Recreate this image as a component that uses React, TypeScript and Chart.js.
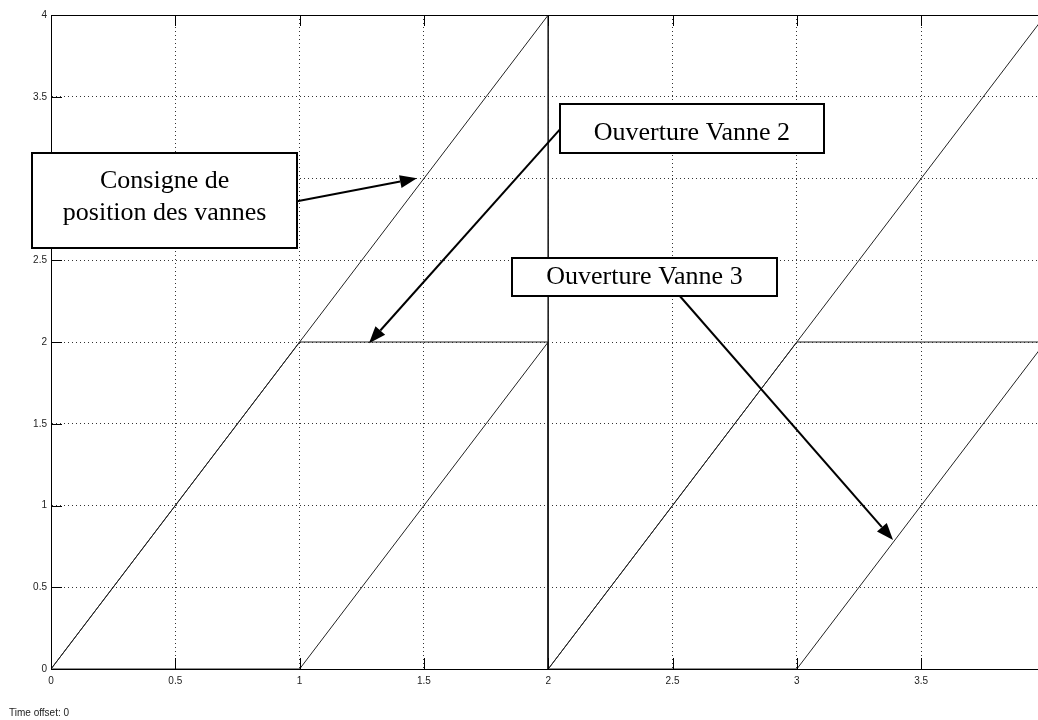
import React, { useEffect, useRef } from "react";
import { Chart, registerables } from "chart.js";

Chart.register(...registerables);

// ---- data ----
const consigneX = [0, 2, 2, 4];
const consigneY = [0, 4, 0, 4];
const vanne2X = [0, 1, 2, 2, 3, 4];
const vanne2Y = [0, 2, 2, 0, 2, 2];
const vanne3X = [0, 1, 2, 2, 3, 4];
const vanne3Y = [0, 0, 2, 0, 0, 2];

const xTickValues = [0, 0.5, 1, 1.5, 2, 2.5, 3, 3.5];
const xTickLabels = ["0", "0.5", "1", "1.5", "2", "2.5", "3", "3.5"];
const yTickValues = [0, 0.5, 1, 1.5, 2, 2.5, 3, 3.5, 4];
const yTickLabels = ["0", "0.5", "1", "1.5", "2", "2.5", "3", "3.5", "4"];

const xMin = 0;
const xMax = 3.97;
const yMin = 0;
const yMax = 4;

const footerText = "Time offset: 0";

// annotation boxes (data units) and arrows
const annLabels = [["Consigne de", "position des vannes"], ["Ouverture Vanne 2"], ["Ouverture Vanne 3"]];
const annBoxX0 = [-0.076, 2.047, 1.854];
const annBoxX1 = [0.99, 3.109, 2.92];
const annBoxYTop = [3.154, 3.454, 2.512];
const annBoxYBot = [2.573, 3.154, 2.28];
const annTextBaseY = [2.94, 3.233, 2.353];
const annArrowFromX = [0.99, 2.047, 2.53];
const annArrowFromY = [2.861, 3.3, 2.28];
const annArrowToX = [1.472, 1.279, 3.387];
const annArrowToY = [3.001, 1.993, 0.789];

const toPts = (xs: number[], ys: number[]) => xs.map((x, i) => ({ x, y: ys[i] }));

const axisFont = { family: "'Liberation Sans', Arial, sans-serif", size: 10 };

const decorPlugin = {
  id: "decor",
  afterDatasetsDraw(chart: any) {
    const { ctx, chartArea } = chart;
    const xs = chart.scales.x;
    const ys = chart.scales.y;
    const { left, right, top, bottom } = chartArea;
    ctx.save();
    ctx.strokeStyle = "#000";
    ctx.lineWidth = 1;
    // top border
    ctx.beginPath();
    ctx.moveTo(left, Math.round(top) + 0.5);
    ctx.lineTo(right, Math.round(top) + 0.5);
    ctx.stroke();
    // inner ticks
    const tl = 11;
    xTickValues.forEach((v) => {
      const px = Math.round(xs.getPixelForValue(v)) + 0.5;
      ctx.beginPath();
      ctx.moveTo(px, bottom);
      ctx.lineTo(px, bottom - tl);
      ctx.moveTo(px, top);
      ctx.lineTo(px, top + tl);
      ctx.stroke();
    });
    yTickValues.forEach((v) => {
      const py = Math.round(ys.getPixelForValue(v)) + 0.5;
      ctx.beginPath();
      ctx.moveTo(left, py);
      ctx.lineTo(left + tl, py);
      ctx.stroke();
    });
    ctx.restore();
  },
  afterDraw(chart: any) {
    const { ctx } = chart;
    const xs = chart.scales.x;
    const ys = chart.scales.y;
    ctx.save();
    // arrows first, then boxes
    for (let i = 0; i < annLabels.length; i++) {
      const x0 = xs.getPixelForValue(annArrowFromX[i]);
      const y0 = ys.getPixelForValue(annArrowFromY[i]);
      const x1 = xs.getPixelForValue(annArrowToX[i]);
      const y1 = ys.getPixelForValue(annArrowToY[i]);
      const ang = Math.atan2(y1 - y0, x1 - x0);
      const hl = 17;
      const hw = 6.5;
      const bx = x1 - hl * Math.cos(ang);
      const by = y1 - hl * Math.sin(ang);
      ctx.strokeStyle = "#000";
      ctx.fillStyle = "#000";
      ctx.lineWidth = 2;
      ctx.beginPath();
      ctx.moveTo(x0, y0);
      ctx.lineTo(bx, by);
      ctx.stroke();
      ctx.beginPath();
      ctx.moveTo(x1, y1);
      ctx.lineTo(bx + hw * Math.sin(ang), by - hw * Math.cos(ang));
      ctx.lineTo(bx - hw * Math.sin(ang), by + hw * Math.cos(ang));
      ctx.closePath();
      ctx.fill();
    }
    for (let i = 0; i < annLabels.length; i++) {
      const bl = xs.getPixelForValue(annBoxX0[i]);
      const br = xs.getPixelForValue(annBoxX1[i]);
      const bt = ys.getPixelForValue(annBoxYTop[i]);
      const bb = ys.getPixelForValue(annBoxYBot[i]);
      ctx.fillStyle = "#fff";
      ctx.fillRect(bl, bt, br - bl, bb - bt);
      ctx.strokeStyle = "#000";
      ctx.lineWidth = 2;
      ctx.strokeRect(Math.round(bl), Math.round(bt), Math.round(br - bl), Math.round(bb - bt));
      ctx.fillStyle = "#000";
      ctx.font = "26px 'Liberation Serif', 'Times New Roman', serif";
      ctx.textAlign = "center";
      ctx.textBaseline = "alphabetic";
      const lines = annLabels[i];
      const lh = 32;
      const cx = (bl + br) / 2;
      const firstBase = ys.getPixelForValue(annTextBaseY[i]);
      lines.forEach((t, k) => ctx.fillText(t, cx, firstBase + k * lh));
    }
    // footer
    ctx.fillStyle = "#222";
    ctx.font = "10px 'Liberation Sans', Arial, sans-serif";
    ctx.textAlign = "left";
    ctx.textBaseline = "middle";
    ctx.fillText(footerText, 9, 713);
    ctx.restore();
  },
};

export default function App() {
  const ref = useRef<HTMLCanvasElement | null>(null);
  useEffect(() => {
    if (!ref.current) return;
    const lineStyle = {
      showLine: true,
      borderColor: "#222",
      borderWidth: 1,
      pointRadius: 0,
      fill: false,
      tension: 0,
    };
    const chart = new Chart(ref.current, {
      type: "scatter",
      data: {
        datasets: [
          { label: "Consigne", data: toPts(consigneX, consigneY), ...lineStyle },
          { label: "Vanne 2", data: toPts(vanne2X, vanne2Y), ...lineStyle },
          { label: "Vanne 3", data: toPts(vanne3X, vanne3Y), ...lineStyle },
        ],
      },
      options: {
        animation: false,
        responsive: false,
        devicePixelRatio: 1,
        layout: { padding: { top: 15, left: 0, right: 0, bottom: 0 } },
        plugins: { legend: { display: false }, tooltip: { enabled: false } },
        scales: {
          x: {
            type: "linear",
            min: xMin,
            max: xMax,
            afterFit: (s: any) => {
              s.height = 51;
            },
            afterBuildTicks: (s: any) => {
              s.ticks = xTickValues.map((v) => ({ value: v }));
            },
            ticks: {
              font: axisFont,
              color: "#222",
              padding: 6,
              maxRotation: 0,
              autoSkip: false,
              callback: (v: any) => {
                const i = xTickValues.indexOf(Number(v));
                return i >= 0 ? xTickLabels[i] : "";
              },
            },
            grid: { color: "#333", lineWidth: 1, drawTicks: false },
            border: { display: true, color: "#000", width: 1, dash: [1, 3] },
          },
          y: {
            type: "linear",
            min: yMin,
            max: yMax,
            afterFit: (s: any) => {
              s.width = 51;
            },
            afterBuildTicks: (s: any) => {
              s.ticks = yTickValues.map((v) => ({ value: v }));
            },
            ticks: {
              font: axisFont,
              color: "#222",
              padding: 4,
              autoSkip: false,
              callback: (v: any) => {
                const i = yTickValues.indexOf(Number(v));
                return i >= 0 ? yTickLabels[i] : "";
              },
            },
            grid: { color: "#333", lineWidth: 1, drawTicks: false },
            border: { display: true, color: "#000", width: 1, dash: [1, 3] },
          },
        },
      },
      plugins: [decorPlugin],
    });
    return () => chart.destroy();
  }, []);
  return (
    <div style={{ position: "absolute", left: 0, top: 0, width: 1038, height: 720, background: "#fff" }}>
      <canvas ref={ref} width={1038} height={720} style={{ display: "block" }} />
    </div>
  );
}
